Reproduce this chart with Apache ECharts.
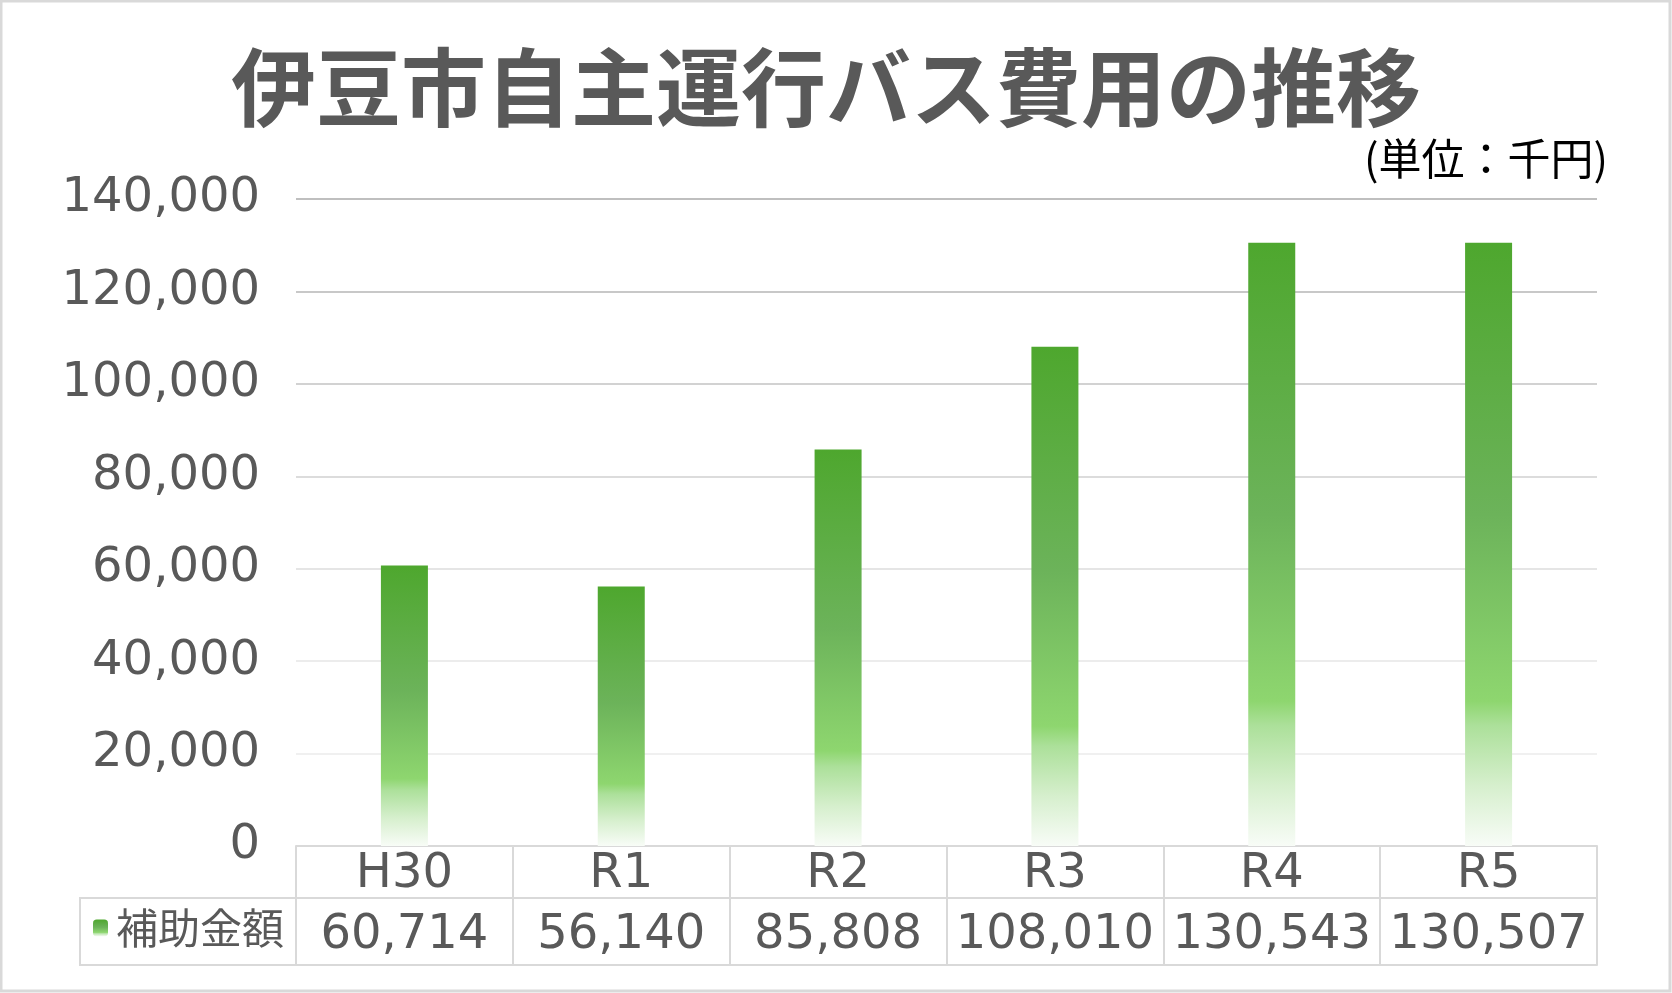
<!DOCTYPE html>
<html>
<head>
    <meta charset="utf-8">
    <title>伊豆市自主運行バス費用の推移</title>
    <script src="https://cdn.jsdelivr.net/npm/echarts/dist/echarts.min.js"></script>
    <style>
        html, body {
            margin: 0;
            padding: 0;
            background: #ffffff;
        }

        #chart {
            width: 1672px;
            height: 993px;
        }
    </style>
</head>
<body>
<div id="chart"></div>
<script>
    // データ
    var years = ['H30', 'R1', 'R2', 'R3', 'R4', 'R5'];
    var hojo = [60714, 56140, 85808, 108010, 130543, 130507];
    var seriesName = '補助金額';
    var yTicks = [0, 20000, 40000, 60000, 80000, 100000, 120000, 140000];

    var gridL = 296, gridR = 75, gridT = 199, gridB = 147;
    var rowH1 = 52, rowH2 = 119;   // 表の行の下端（軸からの距離）
    var tableLeft = 80;
    var W = 1672, H = 993;
    var axisY = H - gridB;

    var textColor = '#595959';
    var lineColor = '#d9d9d9';
    var numFont = '"DejaVu Sans", "Noto Sans CJK JP", sans-serif';
    var jpFont = '"Noto Sans CJK JP", sans-serif';
    var numSize = 48;

    function comma(v) {
        return String(v).replace(/\B(?=(\d{3})+(?!\d))/g, ',');
    }

    var chart = echarts.init(document.getElementById('chart'));

    var option = {
        backgroundColor: '#ffffff',
        animation: false,
        title: [
            {
                text: '伊豆市自主運行バス費用の推移',
                left: 226,
                top: 40,
                textStyle: {
                    fontFamily: jpFont,
                    fontSize: 85,
                    fontWeight: 'bold',
                    color: textColor
                }
            },
            {
                text: '(単位：千円)',
                right: 64,
                top: 137,
                padding: 0,
                textStyle: {
                    fontFamily: jpFont,
                    fontSize: 43,
                    fontWeight: 'normal',
                    color: '#000000'
                }
            }
        ],
        legend: {
            data: [seriesName],
            left: 88,
            top: 902,
            itemWidth: 15,
            itemHeight: 17,
            textStyle: {
                fontFamily: jpFont,
                fontSize: 42,
                color: textColor,
                padding: [0, 0, 0, 3]
            }
        },
        grid: {
            left: gridL,
            right: gridR,
            top: gridT,
            bottom: gridB
        },
        xAxis: [
            {
                type: 'category',
                data: years,
                position: 'bottom',
                axisLine: {show: true, lineStyle: {color: lineColor, width: 2}},
                axisTick: {show: true, length: rowH2, lineStyle: {color: lineColor, width: 2}},
                axisLabel: {
                    fontFamily: numFont,
                    fontSize: numSize,
                    lineHeight: numSize,
                    color: textColor,
                    interval: 0,
                    margin: 5
                }
            },
            {
                type: 'category',
                data: hojo.map(comma),
                position: 'bottom',
                offset: rowH1,
                axisLine: {show: true, lineStyle: {color: lineColor, width: 2}},
                axisTick: {show: false},
                axisLabel: {
                    fontFamily: numFont,
                    fontSize: numSize,
                    lineHeight: numSize,
                    color: textColor,
                    interval: 0,
                    margin: 14
                }
            },
            {
                type: 'category',
                data: years,
                position: 'bottom',
                offset: rowH2,
                axisLine: {show: true, lineStyle: {color: lineColor, width: 2}},
                axisTick: {show: false},
                axisLabel: {show: false}
            }
        ],
        yAxis: {
            type: 'value',
            min: yTicks[0],
            max: yTicks[yTicks.length - 1],
            interval: yTicks[1] - yTicks[0],
            axisLine: {show: false},
            axisTick: {show: false},
            axisLabel: {
                fontFamily: numFont,
                fontSize: numSize,
                color: textColor,
                margin: 36,
                formatter: comma
            },
            splitLine: {
                lineStyle: {
                    width: 2,
                    // 下から上へだんだん濃くなる
                    color: ['#d9d9d9', '#f0f0f0', '#ececec', '#e5e5e5', '#dcdcdc', '#d2d2d2', '#c8c8c8', '#bfbfbf']
                }
            }
        },
        series: [
            {
                name: seriesName,
                type: 'bar',
                xAxisIndex: 0,
                barWidth: 47,
                data: hojo,
                itemStyle: {
                    color: new echarts.graphic.LinearGradient(0, 0, 0, 1, [
                        {offset: 0, color: '#4ea72e'},
                        {offset: 0.45, color: '#6cb35a'},
                        {offset: 0.76, color: '#8ed66f'},
                        {offset: 0.8, color: '#ace09a'},
                        {offset: 0.9, color: '#d6efcd'},
                        {offset: 1, color: '#f8fcf7'}
                    ])
                }
            }
        ],
        graphic: [
            {
                // 外枠
                type: 'rect',
                shape: {x: 1, y: 1, width: W - 3, height: H - 3},
                style: {fill: 'none', stroke: lineColor, lineWidth: 3},
                silent: true
            },
            {
                // 凡例の枠
                type: 'polyline',
                shape: {
                    points: [
                        [gridL, axisY + rowH1],
                        [tableLeft, axisY + rowH1],
                        [tableLeft, axisY + rowH2],
                        [gridL, axisY + rowH2]
                    ]
                },
                style: {fill: 'none', stroke: lineColor, lineWidth: 2},
                silent: true
            }
        ]
    };

    chart.setOption(option);
    window.onresize = function () {
        chart.resize();
    };
</script>
</body>
</html>
